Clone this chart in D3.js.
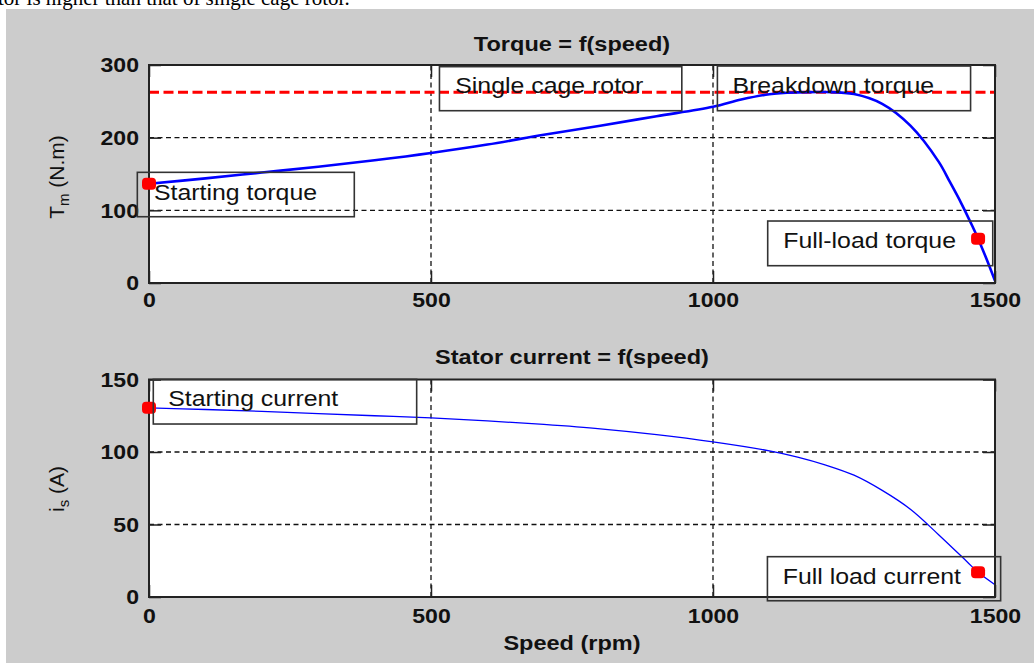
<!DOCTYPE html>
<html><head><meta charset="utf-8">
<script src="https://cdn.jsdelivr.net/npm/d3@7"></script>
<style>body{margin:0;background:#fff;} svg{display:block;}</style>
</head><body>
<svg id="c" width="1034" height="663"></svg>
<script>
// ---------- data ----------
const captionText = "tor is higher than that of single cage rotor.";
const torqueTitle = "Torque = f(speed)";
const currentTitle = "Stator current = f(speed)";
const xLabel = "Speed (rpm)";
const xTicks = [0, 500, 1000, 1500];
const torqueTicks = [0, 100, 200, 300];
const currentTicks = [0, 50, 100, 150];

const torqueSpeed = [0,100,200,300,400,500,600,700,800,900,1000,1050,1100,1150,1200,1250,1300,1350,1400,1420,1440,1460,1470,1485,1500];
const torqueValues = [136.5,144,152,160,169,179,190.5,204,216.5,229.5,242.5,252.5,259.8,262.3,262.8,260,246.5,216.5,167,139,110,78,61,33,3];

const currentSpeed = [0,100,200,300,400,500,600,700,800,900,1000,1100,1150,1200,1250,1300,1350,1400,1450,1470,1500];
const currentValues = [130.5,129.3,128,126.5,125,123.5,121.5,119,116,112,107,100.8,96.5,91,84,73.5,60.5,43,24.5,17,8.5];

const breakdownTorque = 262.5;
const torqueMarkerSpeed = [0, 1470];
const torqueMarkerValue = [136.5, 61];
const currentMarkerSpeed = [0, 1470];
const currentMarkerValue = [130.5, 17];

const torqueNotes = [
  {text:"Starting torque",   x0:-20.7, x1:364,    y0:91.2,  y1:152.3, tx:8.9,    ty:114},
  {text:"Single cage rotor", x0:515,   x1:944.7,  y0:237.1, y1:297.7, tx:543,    ty:261.3},
  {text:"Breakdown torque",  x0:1007.8,x1:1456.7, y0:237.1, y1:298.6, tx:1034.4, ty:261.5},
  {text:"Full-load torque",  x0:1097,  x1:1496,   y0:23.8,  y1:85.3,  tx:1124.6, ty:48.2}
];
const currentNotes = [
  {text:"Starting current",  x0:7.6,    x1:474.6, y0:119.3, y1:150.1, tx:34.2,   ty:131.7},
  {text:"Full load current", x0:1096.5, x1:1510,  y0:-2.6,  y1:27.8,  tx:1123.6, ty:9.2}
];

// ---------- drawing ----------
const W = 1034, H = 663;
const FONT = "'Liberation Sans', Arial, sans-serif";
const svg = d3.select('#c');

function stretch(sel, f) {
  sel.each(function () {
    const w = this.getComputedTextLength();
    d3.select(this).attr('textLength', w * f).attr('lengthAdjust', 'spacingAndGlyphs');
  });
}

svg.append('rect').attr('width', W).attr('height', H).attr('fill', '#fff');
svg.append('rect').attr('x', 6).attr('y', 9).attr('width', W - 6).attr('height', H - 9).attr('fill', '#cccccc');

const cap = svg.append('text').attr('x', -2).attr('y', 5)
  .attr('font-family', "'Liberation Serif', 'Times New Roman', serif")
  .attr('font-size', 21).attr('fill', '#000').text(captionText);
stretch(cap, 1.0);

function panel(cfg) {
  const g = svg.append('g');
  const x = d3.scaleLinear().domain([0, 1500]).range([149, 995]);
  const y = d3.scaleLinear().domain([0, cfg.ymax]).range([cfg.bottom, cfg.top]);

  // plot background
  g.append('rect').attr('x', x(0)).attr('y', y(cfg.ymax))
    .attr('width', x(1500) - x(0)).attr('height', y(0) - y(cfg.ymax)).attr('fill', '#fff');

  // grid
  const grid = g.append('g').attr('stroke', '#111').attr('stroke-width', 1.3).attr('stroke-dasharray', '5,3.5');
  grid.selectAll('.gx').data(xTicks.slice(1, -1)).join('line')
    .attr('x1', d => x(d)).attr('x2', d => x(d)).attr('y1', y(0)).attr('y2', y(cfg.ymax));
  grid.selectAll('.gy').data(cfg.yTicks.slice(1, -1)).join('line')
    .attr('y1', d => y(d)).attr('y2', d => y(d)).attr('x1', x(0)).attr('x2', x(1500));

  // reference line
  if (cfg.refLine !== undefined) {
    g.append('line').attr('x1', x(0)).attr('x2', x(1500))
      .attr('y1', y(cfg.refLine)).attr('y2', y(cfg.refLine))
      .attr('stroke', '#ff0000').attr('stroke-width', 2.8).attr('stroke-dasharray', '10,4.5');
  }

  // curve
  const pts = cfg.sx.map((s, i) => [s, cfg.sy[i]]);
  g.append('path').datum(pts)
    .attr('d', d3.line().x(d => x(d[0])).y(d => y(d[1])).curve(d3.curveCatmullRom.alpha(0.5)))
    .attr('fill', 'none').attr('stroke', '#0000ff').attr('stroke-width', cfg.lw);

  // axes (ticks inside on all four sides)
  const ax = (gen, tr, labels) => {
    const a = g.append('g').attr('transform', tr).call(gen);
    a.select('.domain').remove();
    a.selectAll('.tick line').attr('stroke', '#222').attr('stroke-width', 1.5);
    if (labels) {
      a.selectAll('text').attr('font-family', FONT).attr('font-size', 21)
        .attr('font-weight', 'bold').attr('fill', '#111');
      stretch(a.selectAll('text'), 1.1);
    } else {
      a.selectAll('text').remove();
    }
    return a;
  };
  ax(d3.axisBottom(x).tickValues(xTicks).tickSizeInner(-12).tickSizeOuter(0).tickPadding(cfg.xPad).tickFormat(d3.format('d')),
     `translate(0,${y(0)})`, true);
  ax(d3.axisTop(x).tickValues(xTicks).tickSizeInner(-12).tickSizeOuter(0), `translate(0,${y(cfg.ymax)})`, false);
  ax(d3.axisLeft(y).tickValues(cfg.yTicks).tickSizeInner(-12).tickSizeOuter(0).tickPadding(10).tickFormat(d3.format('d')),
     `translate(${x(0)},0)`, true);
  ax(d3.axisRight(y).tickValues(cfg.yTicks).tickSizeInner(-12).tickSizeOuter(0), `translate(${x(1500)},0)`, false);

  // frame
  g.append('rect').attr('x', x(0)).attr('y', y(cfg.ymax))
    .attr('width', x(1500) - x(0)).attr('height', y(0) - y(cfg.ymax))
    .attr('fill', 'none').attr('stroke', '#222').attr('stroke-width', 2);

  // markers
  g.selectAll('.mk').data(cfg.mx.map((s, i) => [s, cfg.my[i]])).join('rect')
    .attr('x', d => x(d[0]) - 7).attr('y', d => y(d[1]) - 6)
    .attr('width', 14).attr('height', 12).attr('rx', 4).attr('fill', '#ff0000');

  // annotations
  cfg.notes.forEach(n => {
    g.append('rect').attr('x', x(n.x0)).attr('y', y(n.y1))
      .attr('width', x(n.x1) - x(n.x0)).attr('height', y(n.y0) - y(n.y1))
      .attr('fill', 'none').attr('stroke', '#333').attr('stroke-width', 1.6);
    const t = g.append('text').attr('x', x(n.tx)).attr('y', y(n.ty))
      .attr('font-family', FONT).attr('font-size', 22).attr('fill', '#111').text(n.text);
    stretch(t, 1.13);
  });

  // title
  const tt = g.append('text').attr('x', (x(0) + x(1500)) / 2).attr('y', cfg.titleY)
    .attr('text-anchor', 'middle').attr('font-family', FONT).attr('font-size', 21)
    .attr('font-weight', 'bold').attr('fill', '#111').text(cfg.title);
  stretch(tt, 1.12);

  // y label with subscript
  const yl = g.append('text').attr('transform', `translate(64,${cfg.ylabelY}) rotate(-90)`)
    .attr('text-anchor', 'middle').attr('font-family', FONT).attr('font-size', 21).attr('fill', '#111');
  yl.append('tspan').text(cfg.ylab[0]);
  yl.append('tspan').attr('font-size', 15).attr('dy', 5).text(cfg.ylab[1]);
  yl.append('tspan').attr('dy', -5).text(cfg.ylab[2]);

  return {x, y};
}

panel({
  top: 65, bottom: 283, ymax: 300, yTicks: torqueTicks,
  sx: torqueSpeed, sy: torqueValues, lw: 2.6,
  mx: torqueMarkerSpeed, my: torqueMarkerValue,
  refLine: breakdownTorque, notes: torqueNotes,
  title: torqueTitle, titleY: 51, xPad: 9,
  ylab: ["T", "m", " (N.m)"], ylabelY: 177
});
const bottom = panel({
  top: 379.5, bottom: 597, ymax: 150, yTicks: currentTicks,
  sx: currentSpeed, sy: currentValues, lw: 1.3,
  mx: currentMarkerSpeed, my: currentMarkerValue,
  notes: currentNotes,
  title: currentTitle, titleY: 364, xPad: 11,
  ylab: ["i", "s", " (A)"], ylabelY: 489
});

const xl = svg.append('text').attr('x', (bottom.x(0) + bottom.x(1500)) / 2).attr('y', 650)
  .attr('text-anchor', 'middle').attr('font-family', FONT).attr('font-size', 21)
  .attr('font-weight', 'bold').attr('fill', '#111').text(xLabel);
stretch(xl, 1.12);
</script>
</body></html>
